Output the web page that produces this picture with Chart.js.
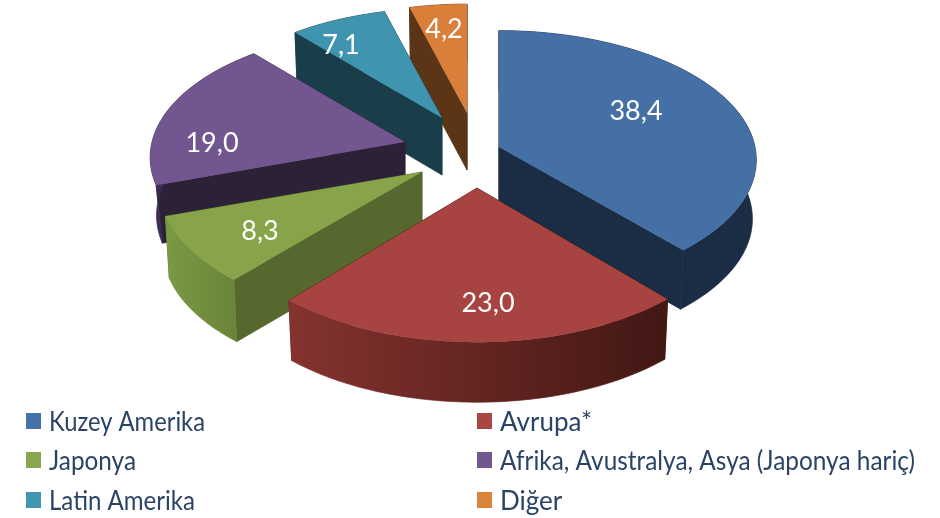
<!DOCTYPE html>
<html><head><meta charset="utf-8">
<style>html,body{margin:0;padding:0;background:#fff}canvas{display:block;filter:blur(0.4px)}</style>
<script src="https://cdn.jsdelivr.net/npm/chart.js@4"></script>
</head><body>
<canvas id="c" width="940" height="518"></canvas>
<script>
const categories = ['Kuzey Amerika','Avrupa*','Japonya','Afrika, Avustralya, Asya (Japonya hariç)','Latin Amerika','Diğer'];
const values = [38.4,23.0,8.3,19.0,7.1,4.2];
const valueLabels = ['38,4','23,0','8,3','19,0','7,1','4,2'];
const topColors = ['#4570A6','#A74341','#88A44B','#71568F','#3F95AF','#D97F3A'];
const radialColors = ['#1A2D45','#421714','#56682E','#2D2138','#1A3E49','#5C3517'];
const outerLeft = ['#1A2D45','#85332F','#7A9A44','#3D2C55','#1A3E49','#5C3517'];
const outerRight = ['#1A2D45','#421714','#6A8539','#2D2138','#1A3E49','#5C3517'];
const legendColors = ['#4571A8','#A94543','#89A54D','#71568F','#3F97B2','#DB843D'];

// presentation: explosion anchor of each slice, per-slice perspective shape, label offset, draw order (back to front)
const anchors = [[499,147],[477,188],[422,172],[405,142],[442,118],[467,113]];
const radiusX = [256,261,261,253,246,246];
const radiusY = [128,136,130,127,123,122];
const perspective = [0.10,0.118,0.118,0.12,0.12,0.12];
const depths = [59,60,62,58,57,57];
const bottomX = [0.985,0.985,0.985,0.975,0.985,0.985];
const labelOffsets = [[137,-36],[11,115],[-162,59],[-193,1],[-101,-73],[-23,-84]];
const drawOrder = [5,4,3,2,0,1];

function proj(i, u, v, low){
  const a = anchors[i];
  const s = 1/(1 - perspective[i]*v);
  const sx = low ? bottomX[i] : 1;
  return [a[0] + radiusX[i]*u*s*sx, a[1] + radiusY[i]*v*s + (low ? depths[i] : 0)];
}
function poly(ctx, pts, fill, seam){
  ctx.beginPath();
  pts.forEach((p,i)=> i ? ctx.lineTo(p[0],p[1]) : ctx.moveTo(p[0],p[1]));
  ctx.closePath();
  ctx.fillStyle = fill;
  ctx.fill();
  if(seam){ ctx.strokeStyle = fill; ctx.lineWidth = 0.7; ctx.stroke(); }
}
const pie3d = {
  id:'pie3d',
  beforeDatasetsDraw(chart){
    const ctx = chart.ctx, arcs = chart.getDatasetMeta(0).data;
    ctx.save();
    drawOrder.forEach(i=>{
      const arc = arcs[i], N = 80;
      const top=[], low=[];
      for(let k=0;k<=N;k++){
        const t = arc.startAngle + (arc.endAngle-arc.startAngle)*k/N;
        top.push(proj(i,Math.cos(t),Math.sin(t),false));
        low.push(proj(i,Math.cos(t),Math.sin(t),true));
      }
      const apexT = proj(i,0,0,false), apexB = proj(i,0,0,true);
      poly(ctx,[apexT,top[0],low[0],apexB],radialColors[i],true);
      poly(ctx,[apexT,top[N],low[N],apexB],radialColors[i],true);
      const xs = top.map(p=>p[0]);
      const g = ctx.createLinearGradient(Math.min(...xs),0,Math.max(...xs),0);
      g.addColorStop(0,outerLeft[i]); g.addColorStop(1,outerRight[i]);
      poly(ctx,top.concat(low.slice().reverse()),g,true);
      poly(ctx,[apexT].concat(top),topColors[i],false);
    });
    ctx.fillStyle='#fff';
    ctx.font='27px Lato';
    ctx.textAlign='center'; ctx.textBaseline='middle';
    valueLabels.forEach((t,i)=>{
      ctx.fillText(t,anchors[i][0]+labelOffsets[i][0],anchors[i][1]+labelOffsets[i][1]);
    });
    ctx.restore();
    return false;
  },
  afterDraw(chart){
    const ctx = chart.ctx;
    const colX=[26,477], rowY=[421,460,500];
    const maxW=[156,100,87,415,146,75];
    ctx.save();
    ctx.textAlign='left'; ctx.textBaseline='middle';
    ctx.font='26px Lato';
    categories.forEach((t,i)=>{
      const x=colX[i%2], y=rowY[Math.floor(i/2)];
      ctx.fillStyle=legendColors[i];
      ctx.fillRect(x,y-8,15,16);
      ctx.fillStyle='#2B4465';
      ctx.fillText(t,x+23,y+1.5,maxW[i]);
    });
    ctx.restore();
  }
};
new Chart(document.getElementById('c'),{
  type:'pie',
  data:{labels:categories,datasets:[{data:values,backgroundColor:topColors,borderWidth:0}]},
  options:{responsive:false,animation:false,rotation:0,circumference:360,
    plugins:{legend:{display:false},tooltip:{enabled:false}},events:[]},
  plugins:[pie3d]
});
</script>
</body></html>
